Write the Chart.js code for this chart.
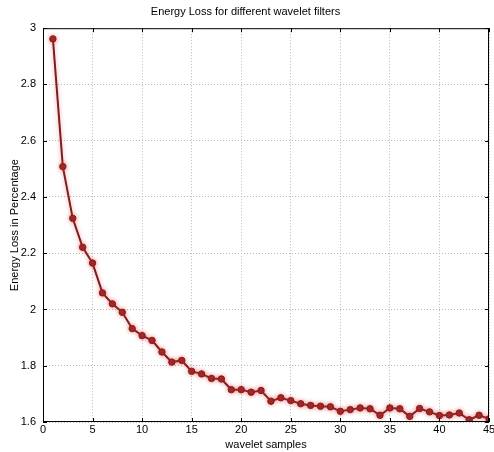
<!DOCTYPE html>
<html>
<head>
<meta charset="utf-8">
<script src="https://cdn.jsdelivr.net/npm/chart.js@4"></script>
<style>
  html, body { margin: 0; padding: 0; background: #fff; }
  #wrap { width: 494px; height: 452px; }
</style>
</head>
<body>
<div id="wrap"><canvas id="chart" width="494" height="452"></canvas></div>
<script>
// wavelet sample index 1..45
const samples = [1,2,3,4,5,6,7,8,9,10,11,12,13,14,15,16,17,18,19,20,21,22,23,24,25,26,27,28,29,30,31,32,33,34,35,36,37,38,39,40,41,42,43,44,45];
// energy loss (%)
const energyLoss = [2.962, 2.508, 2.324, 2.221, 2.165, 2.059, 2.020, 1.990, 1.932, 1.907,
  1.890, 1.849, 1.813, 1.819, 1.780, 1.771, 1.755, 1.753, 1.715, 1.715,
  1.706, 1.712, 1.674, 1.686, 1.676, 1.665, 1.659, 1.656, 1.654, 1.638,
  1.644, 1.650, 1.647, 1.624, 1.650, 1.647, 1.620, 1.648, 1.636, 1.623,
  1.625, 1.632, 1.608, 1.624, 1.611];
const xTicks = [0, 5, 10, 15, 20, 25, 30, 35, 40, 45];
const yTicks = [1.6, 1.8, 2, 2.2, 2.4, 2.6, 2.8, 3];

const font = { family: "Liberation Sans, Arial, sans-serif", size: 11, weight: "normal" };

// black box around plot area + inward ticks (matlab look)
const boxPlugin = {
  id: "box",
  afterDraw(chart) {
    const { ctx, chartArea: a, scales } = chart;
    ctx.save();
    ctx.strokeStyle = "#000";
    ctx.lineWidth = 1;
    ctx.strokeRect(a.left + 0.5, a.top + 0.5, a.right - a.left - 1, a.bottom - a.top - 1);
    ctx.beginPath();
    xTicks.forEach(v => {
      const px = Math.round(scales.x.getPixelForValue(v)) + 0.5;
      ctx.moveTo(px, a.bottom); ctx.lineTo(px, a.bottom - 4);
      ctx.moveTo(px, a.top); ctx.lineTo(px, a.top + 4);
    });
    yTicks.forEach(v => {
      const py = Math.round(scales.y.getPixelForValue(v)) + 0.5;
      ctx.moveTo(a.left, py); ctx.lineTo(a.left + 4, py);
      ctx.moveTo(a.right, py); ctx.lineTo(a.right - 4, py);
    });
    ctx.stroke();
    ctx.restore();
  }
};

// soft red halo around the line
const glowPlugin = {
  id: "glow",
  beforeDatasetsDraw(chart) {
    chart.ctx.save();
    chart.ctx.shadowColor = "rgba(225,70,70,0.5)";
    chart.ctx.shadowBlur = 4;
  },
  afterDatasetsDraw(chart) {
    chart.ctx.restore();
  }
};

new Chart(document.getElementById("chart").getContext("2d"), {
  type: "line",
  data: {
    datasets: [{
      data: samples.map((s, i) => ({ x: s, y: energyLoss[i] })),
      borderColor: "#7e1d1d",
      borderWidth: 2,
      backgroundColor: "#9e2222",
      pointBackgroundColor: "#9e2222",
      pointBorderColor: "#861d1d",
      pointBorderWidth: 1,
      pointRadius: 3.2,
      tension: 0,
      fill: false
    }]
  },
  options: {
    responsive: false,
    animation: false,
    layout: { padding: { left: 0, right: 3, top: 0, bottom: 0 } },
    plugins: {
      legend: { display: false },
      tooltip: { enabled: false },
      title: {
        display: true,
        text: "Energy Loss for different wavelet filters",
        color: "#000",
        font: font,
        padding: { top: 5, bottom: 10 }
      }
    },
    scales: {
      x: {
        type: "linear",
        min: 0, max: 45,
        afterBuildTicks: s => { s.ticks = xTicks.map(v => ({ value: v })); },
        afterFit: s => { s.height = 30; s.paddingRight = 0; s.paddingLeft = 0; },
        ticks: { color: "#000", font: font, padding: 1, maxRotation: 0 },
        grid: { color: "#b8b8b8", drawTicks: false, lineWidth: 1 },
        border: { display: false, dash: [1, 2] },
        title: { display: true, text: "wavelet samples", color: "#000", font: font, padding: { top: 0, bottom: 0 } }
      },
      y: {
        min: 1.6, max: 3,
        afterBuildTicks: s => { s.ticks = yTicks.map(v => ({ value: v })); },
        afterFit: s => { s.width = 43; },
        ticks: { color: "#000", font: font, padding: 7, callback: v => String(+v.toFixed(1)) },
        grid: { color: "#b8b8b8", drawTicks: false, lineWidth: 1 },
        border: { display: false, dash: [1, 2] },
        title: { display: true, text: "Energy Loss in Percentage", color: "#000", font: font, padding: { top: 8, bottom: 0 } }
      }
    }
  },
  plugins: [glowPlugin, boxPlugin]
});
</script>
</body>
</html>
